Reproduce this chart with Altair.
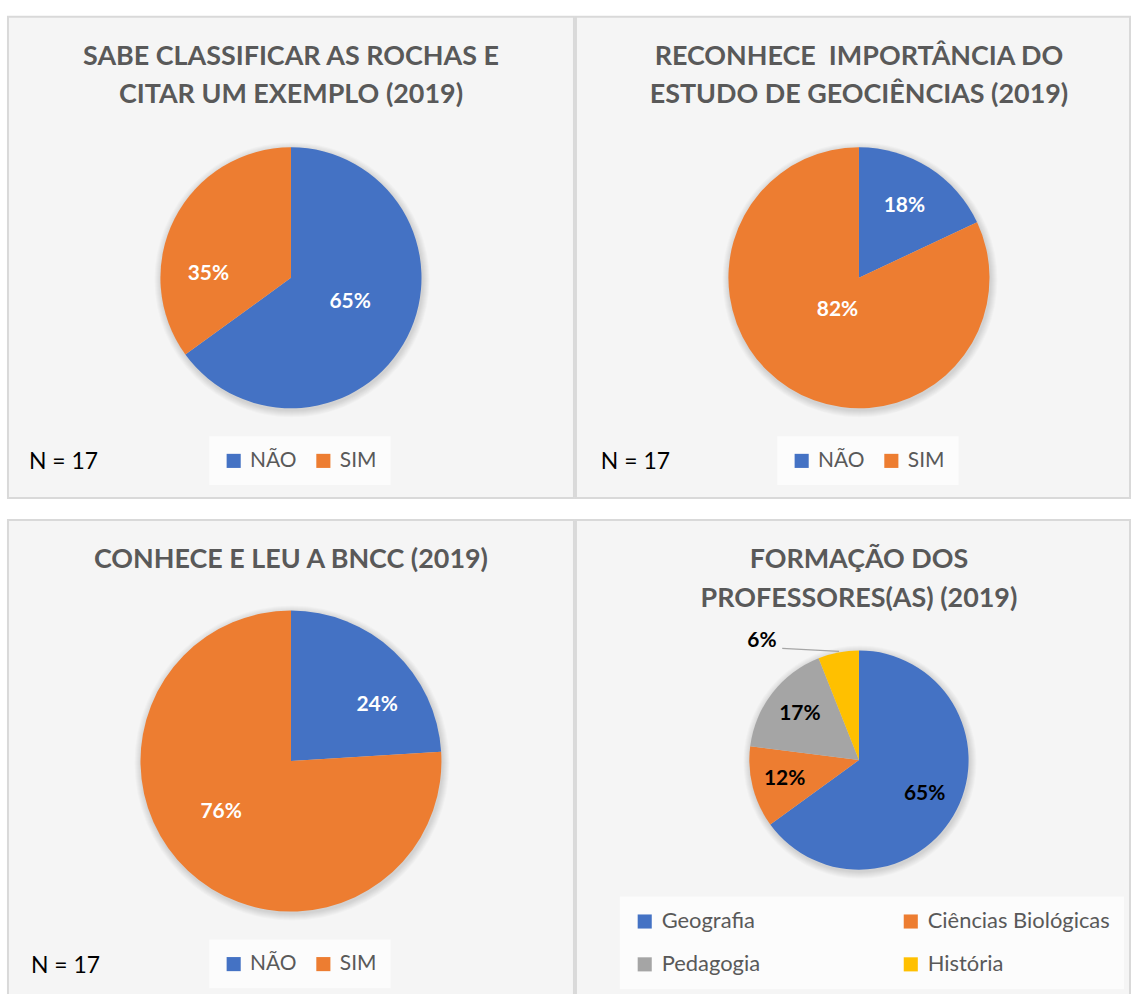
import math
import altair as alt
import pandas as pd

FONT = "Lato"

# ---------------- data (percentages, N = 17) ----------------
yn_cats = ["NÃO", "SIM"]
rochas_pct = [65, 35]
geoc_pct = [18, 82]
bncc_pct = [24, 76]
form_cats = ["Geografia", "Ciências Biológicas", "Pedagogia", "História"]
form_pct = [65, 12, 17, 6]

titles = [
    "SABE CLASSIFICAR AS ROCHAS E\nCITAR UM EXEMPLO (2019)",
    "RECONHECE \u00a0IMPORTÂNCIA DO\nESTUDO DE GEOCIÊNCIAS (2019)",
    "CONHECE E LEU A BNCC (2019)",
    "FORMAÇÃO DOS\nPROFESSORES(AS) (2019)",
]
notes = ["N = 17", "N = 17", "N = 17"]

yn_colors = ["#4472C4", "#ED7D31"]
form_colors = ["#4472C4", "#ED7D31", "#A5A5A5", "#FFC000"]
TITLE_COLOR = "#595959"
TAU = 2 * math.pi


def yn_legend(lx, ly):
    return alt.Legend(
        orient="none", legendX=lx, legendY=ly, direction="horizontal", title=None,
        symbolType="square", symbolSize=200, symbolStrokeWidth=0, symbolOpacity=1,
        labelFont=FONT, labelFontSize=21, labelColor="#595959", labelOffset=6,
        labelLimit=400, columnPadding=16, padding=14, fillColor="rgba(255,255,255,0.7)",
    )


def panel(cats, values, colors, title, w, h, cx, cy, r, title_y, label_color,
          label_pos, legend, note=None, note_x=0, note_y=0, extra=None):
    df = pd.DataFrame({"cat": cats, "v": values, "k": list(range(len(cats)))})
    base = alt.Chart(df).transform_joinaggregate(total="sum(v)").transform_calculate(
        pct="datum.v / datum.total"
    )
    theta = alt.Theta("v:Q", stack=True)
    order = alt.Order("k:Q", sort="ascending")
    layers = []
    # soft shadow around the pie
    for dr in range(1, 8):
        layers.append(
            alt.Chart(alt.Data(values=[{"s": 1}]))
            .mark_arc(theta=0, theta2=TAU, outerRadius=r + dr, color="#000000", opacity=0.02)
            .encode(x=alt.value(cx + 1), y=alt.value(cy + 2))
        )
    layers.append(
        base.mark_arc(outerRadius=r).encode(
            theta=theta,
            order=order,
            color=alt.Color("cat:N", scale=alt.Scale(domain=cats, range=colors),
                            sort=cats, legend=legend),
            x=alt.value(cx), y=alt.value(cy),
        )
    )
    for c, (rho, off) in label_pos.items():
        layers.append(
            base.transform_calculate(
                lbl=f"datum.cat === '{c}' ? format(datum.pct, '.0%') : ''"
            )
            .mark_text(radius=rho, thetaOffset=off, font=FONT, fontSize=21,
                       fontWeight="bold", color=label_color, align="center",
                       baseline="middle")
            .encode(theta=theta, order=order, detail="cat:N", text="lbl:N",
                    x=alt.value(cx), y=alt.value(cy))
        )
    layers.append(
        alt.Chart(alt.Data(values=[{"t": title}]))
        .mark_text(font=FONT, fontSize=27, fontWeight="bold", color=TITLE_COLOR,
                   lineBreak="\n", lineHeight=39, align="center", baseline="middle")
        .encode(text="t:N", x=alt.value(cx), y=alt.value(title_y))
    )
    if note:
        layers.append(
            alt.Chart(alt.Data(values=[{"t": note}]))
            .mark_text(font=FONT, fontSize=23, color="#000000", align="left",
                       baseline="middle")
            .encode(text="t:N", x=alt.value(note_x), y=alt.value(note_y))
        )
    if extra is not None:
        layers.extend(extra)
    return alt.layer(*layers).properties(width=w, height=h)


p1 = panel(yn_cats, rochas_pct, yn_colors, titles[0], 568, 483, 284, 262, 131, 40,
           "#FFFFFF", {"NÃO": (64, TAU - 0.089), "SIM": (83, TAU - 0.42)},
           yn_legend(202, 421), notes[0], 21, 447)
p2 = panel(yn_cats, geoc_pct, yn_colors, titles[1], 556, 483, 284, 262, 131, 40,
           "#FFFFFF", {"NÃO": (85, 0.0), "SIM": (39, 0.02)},
           yn_legend(202, 421), notes[1], 25, 447)
p3 = panel(yn_cats, bncc_pct, yn_colors, titles[2], 568, 477, 284, 242, 151, 40,
           "#FFFFFF", {"NÃO": (103, 0.242), "SIM": (87, 0.184)},
           yn_legend(202, 421), notes[2], 23, 448)

leader = (
    alt.Chart(alt.Data(values=[{"s": 1}]))
    .mark_rule(color="#A6A6A6", strokeWidth=1.3)
    .encode(x=alt.value(207), x2=alt.value(264), y=alt.value(129), y2=alt.value(132))
)
form_legend = alt.Legend(
    orient="none", legendX=44, legendY=378, direction="horizontal", columns=2, title=None,
    symbolType="square", symbolSize=200, symbolStrokeWidth=0, symbolOpacity=1,
    labelFont=FONT, labelFontSize=22, labelColor="#595959", labelOffset=6,
    labelLimit=400, columnPadding=140, rowPadding=21, padding=14,
    fillColor="rgba(255,255,255,0.7)",
)
p4 = panel(form_cats, form_pct, form_colors, titles[3], 556, 477, 284, 241, 110, 40,
           "#000000",
           {"Geografia": (74, 0.0), "Ciências Biológicas": (77, 0.0),
            "Pedagogia": (75, 0.0), "História": (154, TAU - 0.496)},
           form_legend, extra=[leader])

row1 = alt.hconcat(p1, p2, spacing=0).resolve_scale(color="independent").resolve_legend(color="independent")
row2 = alt.hconcat(p3, p4, spacing=0).resolve_scale(color="independent").resolve_legend(color="independent")
chart = (
    alt.vconcat(row1, row2, spacing=20)
    .resolve_scale(color="independent")
    .resolve_legend(color="independent")
    .configure_view(fill="#F5F5F5", stroke="#D9D9D9", strokeWidth=2)
    .properties(padding={"left": 7, "top": 14, "right": 0, "bottom": 0}, background="white")
)

chart.save("out.html", embed_options={"renderer": "svg", "actions": False})
